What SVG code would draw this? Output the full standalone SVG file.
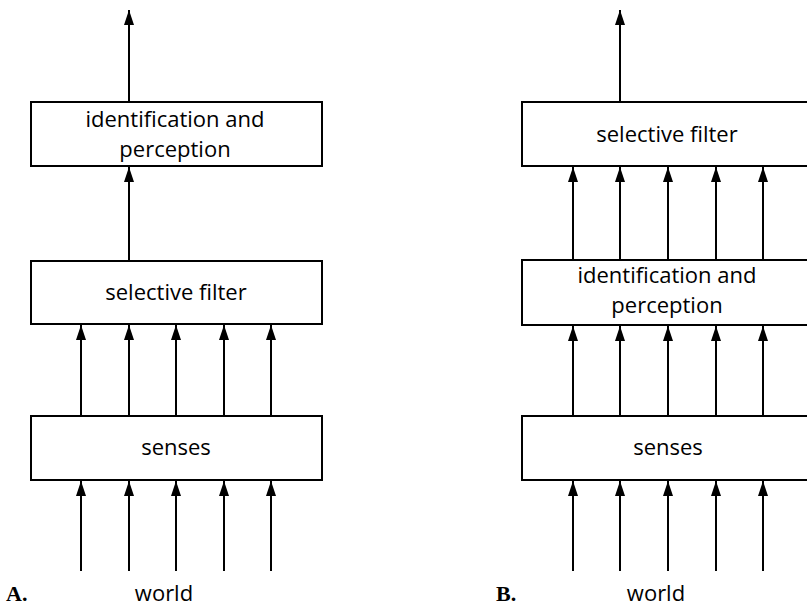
<svg xmlns="http://www.w3.org/2000/svg" width="807" height="606" viewBox="0 0 807 606">
<style>
.box{fill:#fff;stroke:#000;stroke-width:2}
.t{font-family:"Open Sans","Liberation Sans",sans-serif;font-size:22px;fill:#000;text-anchor:middle}
.lbl{font-family:"Liberation Serif",serif;font-size:22px;font-weight:bold;fill:#000}
.c line{stroke:#000;stroke-width:2;marker-end:url(#ah)}
</style>
<defs>
<marker id="ah" markerUnits="userSpaceOnUse" markerWidth="16" markerHeight="12" viewBox="0 0 16 12" refX="15" refY="6" orient="auto">
<path d="M15,6 L0,11 L0,1 Z" fill="#000"/>
</marker>
</defs>
<rect width="807" height="606" fill="#fff"/>
<g class="c" id="connectors">
<line x1="129" y1="102" x2="129" y2="10"/>
<line x1="129" y1="261" x2="129" y2="167"/>
<line x1="81" y1="416" x2="81" y2="325"/>
<line x1="129" y1="416" x2="129" y2="325"/>
<line x1="176" y1="416" x2="176" y2="325"/>
<line x1="224" y1="416" x2="224" y2="325"/>
<line x1="271" y1="416" x2="271" y2="325"/>
<line x1="81" y1="571" x2="81" y2="481"/>
<line x1="129" y1="571" x2="129" y2="481"/>
<line x1="176" y1="571" x2="176" y2="481"/>
<line x1="224" y1="571" x2="224" y2="481"/>
<line x1="271" y1="571" x2="271" y2="481"/>
<line x1="620" y1="102" x2="620" y2="10"/>
<line x1="573" y1="260" x2="573" y2="167"/>
<line x1="620" y1="260" x2="620" y2="167"/>
<line x1="668" y1="260" x2="668" y2="167"/>
<line x1="716" y1="260" x2="716" y2="167"/>
<line x1="763" y1="260" x2="763" y2="167"/>
<line x1="573" y1="416" x2="573" y2="326"/>
<line x1="620" y1="416" x2="620" y2="326"/>
<line x1="668" y1="416" x2="668" y2="326"/>
<line x1="716" y1="416" x2="716" y2="326"/>
<line x1="763" y1="416" x2="763" y2="326"/>
<line x1="573" y1="571" x2="573" y2="481"/>
<line x1="620" y1="571" x2="620" y2="481"/>
<line x1="668" y1="571" x2="668" y2="481"/>
<line x1="716" y1="571" x2="716" y2="481"/>
<line x1="763" y1="571" x2="763" y2="481"/>
</g>
<g id="a-ident">
<rect class="box" x="31" y="102" width="291" height="64"/>
<text class="t" x="175" y="127">identification and</text>
<text class="t" x="175" y="157">perception</text>
</g>
<g id="a-filter">
<rect class="box" x="31" y="261" width="291" height="63"/>
<text class="t" x="176" y="300">selective filter</text>
</g>
<g id="a-senses">
<rect class="box" x="31" y="416" width="291" height="64"/>
<text class="t" x="176" y="455">senses</text>
</g>
<g id="a-world"><text class="t" x="164" y="601">world</text></g>
<g id="a-label"><text class="lbl" x="6" y="601">A.</text></g>
<g id="b-filter">
<rect class="box" x="522" y="102" width="291" height="64"/>
<text class="t" x="667" y="142">selective filter</text>
</g>
<g id="b-ident">
<rect class="box" x="522" y="260" width="291" height="65"/>
<text class="t" x="667" y="283">identification and</text>
<text class="t" x="667" y="313">perception</text>
</g>
<g id="b-senses">
<rect class="box" x="522" y="416" width="291" height="64"/>
<text class="t" x="668" y="455">senses</text>
</g>
<g id="b-world"><text class="t" x="656" y="601">world</text></g>
<g id="b-label"><text class="lbl" x="496" y="601">B.</text></g>
</svg>
